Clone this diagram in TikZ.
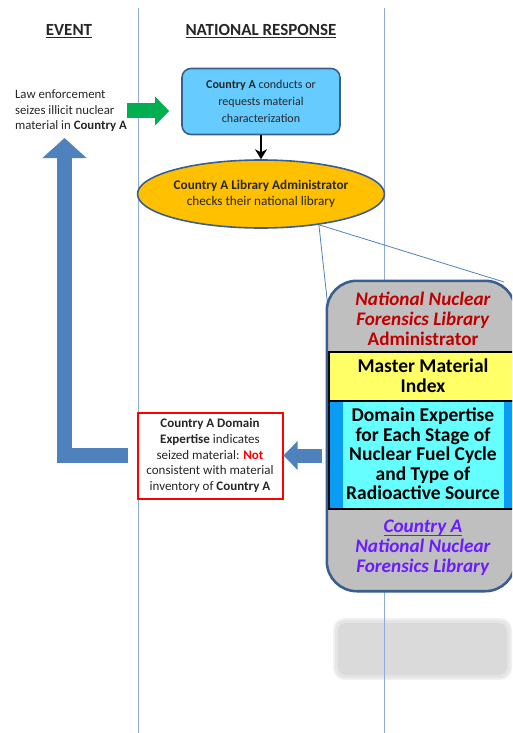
\documentclass[tikz,border=0pt]{standalone}
\usepackage{fontspec}
\setmainfont{Carlito}
\usetikzlibrary{arrows.meta,shapes.geometric}
\definecolor{laneblue}{HTML}{8FAADC}
\definecolor{callblue}{HTML}{4F81BD}
\definecolor{charfill}{HTML}{66CCFF}
\definecolor{darkedge}{HTML}{3A5F8F}
\definecolor{libgold}{HTML}{FFC000}
\definecolor{libgray}{HTML}{BFBFBF}
\definecolor{admred}{HTML}{C00000}
\definecolor{mmiyellow}{HTML}{FFFF66}
\definecolor{expcyan}{HTML}{66FFFF}
\definecolor{stripblue}{HTML}{0A9CF5}
\definecolor{natviolet}{HTML}{6A1BFF}
\definecolor{seizegreen}{HTML}{00B050}
\definecolor{ghostgray}{HTML}{DADADA}
\definecolor{bodytext}{HTML}{262626}
% underline set close to the baseline
\newcommand{\lineunder}[1]{\setbox0\hbox{#1}\rlap{\rule[-3pt]{\wd0}{1.1pt}}\box0}

\begin{document}
\begin{tikzpicture}[x=1pt,y=-1pt]
	\tikzstyle{lane}=[draw=laneblue,line width=0.9pt]
	\tikzstyle{header}=[text=bodytext,font=\fontsize{17}{19}\selectfont\bfseries]
	\tikzstyle{charbox}=[rounded corners=9pt,draw=darkedge,line width=1.6pt,fill=charfill,minimum width=158pt,minimum height=66pt,align=center,text=bodytext,font=\fontsize{12}{17}\selectfont]
	\tikzstyle{admin}=[ellipse,draw=darkedge,line width=1.6pt,fill=libgold,minimum width=225pt,minimum height=68pt,inner sep=0pt,align=center,text=bodytext,font=\fontsize{13.2}{16}\selectfont]
	\tikzstyle{verdict}=[draw=red,line width=2pt,fill=white,minimum width=145pt,minimum height=86pt,inner sep=0pt,align=center,text=bodytext,font=\fontsize{13}{15.7}\selectfont]
	\tikzstyle{libbox}=[rounded corners=30pt,fill=libgray,minimum width=188pt,minimum height=310pt]
	\tikzstyle{libtext}=[align=center,font=\fontsize{19.2}{19.8}\selectfont\bfseries]
	\tikzstyle{callout}=[draw=callblue,line width=0.8pt]
	\tikzstyle{block arrow}=[draw=callblue,line width=15pt,-{Triangle[width=28pt,length=14pt]}]

	\useasboundingbox (0,0) rectangle (512,733);
	\clip (0,0) rectangle (512,733);

	% faint leftover shape, soft edge
	\fill[ghostgray!40,rounded corners=12pt] (333,618) rectangle (512,680);
	\fill[ghostgray!70,rounded corners=10pt] (335,620) rectangle (510,678);
	\fill[ghostgray,rounded corners=8pt] (338,623) rectangle (507,675);

	% columns
	\draw[lane] (138,8) -- (138,733);
	\draw[lane] (384,8) -- (384,733);

	\node[header] (event) at (69,31) {\underline{EVENT}};
	\node[header] (natresp) at (261,31) {\underline{NATIONAL RESPONSE}};

	\node[anchor=east,inner sep=0pt,align=left,text=bodytext,font=\fontsize{12.8}{15.5}\selectfont] (seize) at (127,111)
		{Law enforcement\\seizes illicit nuclear\\material in \textbf{Country A}};
	\coordinate (seizetip) at (64.5,138);

	\node[charbox] (char) at (261,101.5)
		{\textbf{Country A} conducts or\\requests material\\characterization};
	\node[admin] (admin) at (261,194)
		{\textbf{Country A Library Administrator}\\checks their national library};

	% zoomed library
	\draw[callout] (admin.-28) -- (329,317);
	\draw[callout] (admin.-28) -- (504,282);
	\node[libbox] (lib) at (421,436) {};
	\filldraw[fill=mmiyellow,draw=black,line width=1.2pt] (329,352) rectangle (518,401);
	\fill[stripblue] (329,401) rectangle (518,509);
	\fill[expcyan] (343,401) rectangle (504,509);
	\draw[black,line width=1.2pt] (329,401) rectangle (518,509);
	\draw[darkedge,line width=2.6pt,rounded corners=30pt] (lib.north west) rectangle (lib.south east);

	\node[libtext,text=admred] (libadmin) at (423,319)
		{\textit{National Nuclear}\\\textit{Forensics Library}\\Administrator};
	\node[libtext,font=\fontsize{19.5}{20}\selectfont\bfseries] (mmi) at (423,376) {Master Material\\Index};
	\node[libtext,font=\fontsize{19.5}{19.5}\selectfont\bfseries] (expertise) at (423,454)
		{Domain Expertise\\for Each Stage of\\Nuclear Fuel Cycle\\and Type of\\Radioactive Source};
	\node[libtext,text=natviolet] (natlib) at (423,548)
		{\lineunder{\textit{Country A}}\\\textit{National Nuclear}\\\textit{Forensics Library}};

	\node[verdict] (verdict) at (210,455.5)
		{\textbf{Country A Domain}\\\textbf{Expertise} indicates\\seized material: \textcolor{red}{\textbf{Not}}\\consistent with material\\inventory of \textbf{Country A}};

	% arrows
	\draw[block arrow,draw=seizegreen] (seize.east) -- ([xshift=-12pt]char.west |- seize.east);
	\draw[black,line width=2.4pt,-{Stealth[length=10pt,width=12pt]}] (char) -- (admin);
	\draw[block arrow,line width=14pt] ([xshift=-5pt]lib.west |- verdict.east) -- (verdict.east);
	\draw[block arrow,line width=15.5pt,-{Triangle[width=43pt,length=20pt]}] ([xshift=-9pt]verdict.west) -| (seizetip);
\end{tikzpicture}
\end{document}
